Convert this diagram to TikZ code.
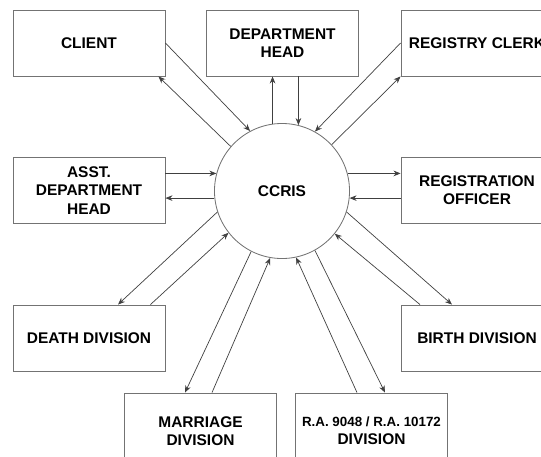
\documentclass[tikz,border=0pt]{standalone}
\usepackage{fontspec}
\setmainfont{Liberation Sans}
\usetikzlibrary{arrows.meta,calc}

\begin{document}
\begin{tikzpicture}[x=0.025cm,y=-0.025cm,
  font=\bfseries\fontsize{11}{13}\selectfont,
  unit/.style={draw=black!55,line width=0.6pt,minimum width=3.8cm,minimum height=1.65cm,
               align=center,inner sep=2pt},
  hub/.style={circle,draw=black!55,line width=0.6pt,minimum size=3.375cm,inner sep=0pt},
  ar/.style={-{Stealth[length=5pt,width=4pt]},line width=0.5pt,draw=black!75}]

\useasboundingbox (0,0) rectangle (541,456);
\clip (0,0) rectangle (541,456);

\node[hub] (ccris) at (282,191) {CCRIS};

\node[unit] (client) at (89,43) {CLIENT};
\node[unit] (dept) at (282.5,43) {DEPARTMENT\\HEAD};
\node[unit] (clerk) at (477,43) {REGISTRY CLERK};
\node[unit] (asst) at (89,190.5) {ASST.\\DEPARTMENT\\HEAD};
\node[unit] (officer) at (477,190.5) {REGISTRATION\\OFFICER};
\node[unit] (death) at (89,338) {DEATH DIVISION};
\node[unit] (birth) at (477,338) {BIRTH DIVISION};
\node[unit,minimum height=1.9cm] (marriage) at (200.5,431) {MARRIAGE\\DIVISION};
\node[unit,minimum height=1.9cm] (ra) at (371.5,431)
  {{\fontsize{9.5}{12}\selectfont R.A. 9048 / R.A. 10172}\\DIVISION};

\draw[ar] (client.east) -- (ccris.118);
\draw[ar] (ccris.139) -- ($(client.south east)+(-7,0)$);

\draw[ar] (ccris.98) -- (ccris.98 |- dept.south);
\draw[ar] (ccris.76 |- dept.south) -- (ccris.76);

\draw[ar] (clerk.west) -- (ccris.61);
\draw[ar] (ccris.43) -- (clerk.south west);

\draw[ar] (ccris.165 -| asst.east) -- (ccris.165);
\draw[ar] (ccris.186) -- (ccris.186 -| asst.east);

\draw[ar] (ccris.15) -- (ccris.15 -| officer.west);
\draw[ar] (ccris.354 -| officer.west) -- (ccris.354);

\draw[ar] (ccris.198) -- ($(death.north)+(29,0)$);
\draw[ar] ($(death.north east)+(-15,0)$) -- (ccris.218);

\draw[ar] (ccris.243) -- ($(marriage.north)+(-15.5,0)$);
\draw[ar] ($(marriage.north)+(11.5,0)$) -- (ccris.260);

\draw[ar] ($(ra.north)+(-14.5,0)$) -- (ccris.282);
\draw[ar] (ccris.299) -- ($(ra.north)+(13.5,0)$);

\draw[ar] (ccris.342) -- ($(birth.north)+(-25,0)$);
\draw[ar] ($(birth.north)+(-57,0)$) -- (ccris.321);
\end{tikzpicture}
\end{document}
